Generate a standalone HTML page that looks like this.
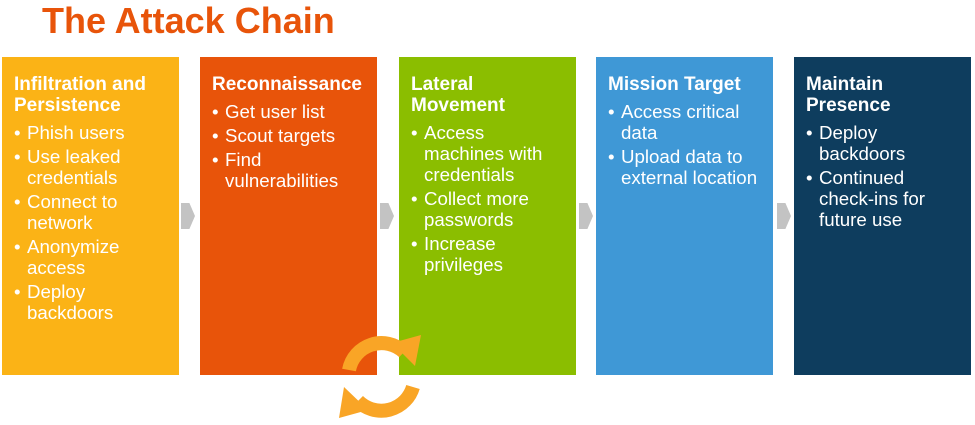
<!DOCTYPE html><html><head><style>
body{margin:0;width:975px;height:425px;background:#fff;position:relative;overflow:hidden;font-family:"Liberation Sans",Arial,sans-serif}
.t{position:absolute;left:42px;top:0px;font-size:36px;font-weight:bold;color:#E8540A}
.b{position:absolute;top:57px;width:177px;height:318px;color:#fff;box-sizing:border-box;padding:17px 14px 0 12px}
.b h{display:block;font-weight:bold;font-size:19px;line-height:21px;margin-bottom:6px}
.b ul{margin:0;padding:0;list-style:none}
.b li{font-size:18.7px;line-height:21px;padding-left:13px;position:relative;margin-bottom:3px}
.b li:before{content:"•";position:absolute;left:0}
.a{position:absolute;top:203px;width:14px;height:26px;background:#C3C3C3;clip-path:polygon(0 0,60% 0,100% 50%,60% 100%,0 100%)}
</style></head><body>
<div class="t">The Attack Chain</div>
<div class="b" style="left:2px;background:#FBB316"><h>Infiltration and Persistence</h><ul><li>Phish users</li><li>Use leaked credentials</li><li>Connect to network</li><li>Anonymize access</li><li>Deploy backdoors</li></ul></div>
<div class="b" style="left:200px;background:#E8540A"><h>Reconnaissance</h><ul><li>Get user list</li><li>Scout targets</li><li>Find vulnerabilities</li></ul></div>
<div class="b" style="left:399px;background:#8BBE00"><h>Lateral Movement</h><ul><li>Access machines with credentials</li><li>Collect more passwords</li><li>Increase privileges</li></ul></div>
<div class="b" style="left:596px;background:#3F98D6"><h>Mission Target</h><ul><li>Access critical data</li><li>Upload data to external location</li></ul></div>
<div class="b" style="left:794px;background:#0E3D5E"><h>Maintain Presence</h><ul><li>Deploy backdoors</li><li>Continued check-ins for future use</li></ul></div>
<div class="a" style="left:181px"></div><div class="a" style="left:380px"></div><div class="a" style="left:579px"></div><div class="a" style="left:777px"></div>
<svg style="position:absolute;left:0;top:0" width="975" height="425">
<g fill="none" stroke="#F9A526" stroke-width="14">
<path d="M349 370 A33 33 0 0 1 404 352"/>
<path d="M413 387 A33 33 0 0 1 358 401"/>
</g>
<polygon points="392,343 421,335 415,366" fill="#F9A526"/>
<polygon points="368,410 339,418 344,387" fill="#F9A526"/>
</svg>
</body></html>
